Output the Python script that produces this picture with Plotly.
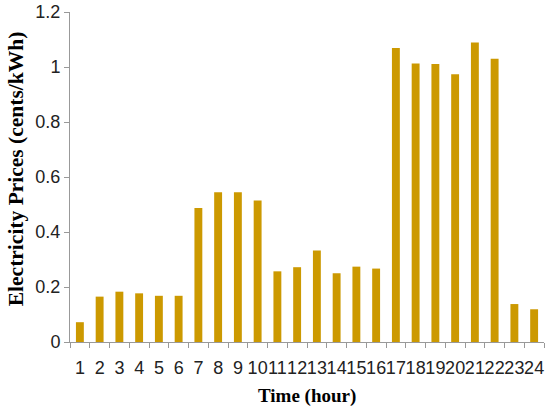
import plotly.graph_objects as go

hours = [str(h) for h in range(1, 25)]
prices = [0.072, 0.165, 0.183, 0.177, 0.168, 0.168, 0.487, 0.545, 0.545, 0.515,
          0.257, 0.272, 0.333, 0.250, 0.274, 0.267, 1.069, 1.013, 1.011, 0.974,
          1.089, 1.030, 0.138, 0.119]
y_ticks = [0, 0.2, 0.4, 0.6, 0.8, 1, 1.2]
y_ticklabels = ["0", "0.2", "0.4", "0.6", "0.8", "1", "1.2"]

fig = go.Figure(go.Bar(x=hours, y=prices, marker=dict(color="#CC9900", line=dict(width=0))))

serif = "Liberation Serif, Times New Roman, serif"
fig.update_layout(
    width=550, height=408,
    margin=dict(l=70, r=6, t=12, b=66, autoexpand=False),
    plot_bgcolor="white", paper_bgcolor="white",
    bargap=0.6,
    showlegend=False,
    font=dict(family="Liberation Sans, Arial, sans-serif", size=18, color="#222"),
    annotations=[
        dict(text="<b>Time (hour)</b>", xref="paper", yref="paper", x=0.5, y=-0.163,
             xanchor="center", yanchor="middle", showarrow=False,
             font=dict(family=serif, size=19, color="#000")),
        dict(text="<b>Electricity Prices (cents/kWh)</b>", xref="paper", yref="paper",
             x=-0.115, y=0.525, xanchor="center", yanchor="middle", showarrow=False,
             textangle=-90, font=dict(family=serif, size=21.5, color="#000")),
    ],
)
fig.update_xaxes(
    type="category", tickmode="array", tickvals=hours, ticktext=hours,
    tickson="boundaries", ticks="outside", ticklen=5, tickcolor="#999",
    showline=True, linecolor="#999", linewidth=1, showgrid=False, tickangle=0,
    automargin=False, ticklabelstandoff=9,
)
fig.update_yaxes(
    range=[0, 1.2], tickvals=y_ticks, ticktext=y_ticklabels, ticks="outside", ticklen=5, tickcolor="#999",
    showline=True, linecolor="#999", linewidth=1, showgrid=False, zeroline=False,
    automargin=False,
)

fig.write_html("out.html", config={"displayModeBar": False},
               post_script="document.body.style.margin='0';")
